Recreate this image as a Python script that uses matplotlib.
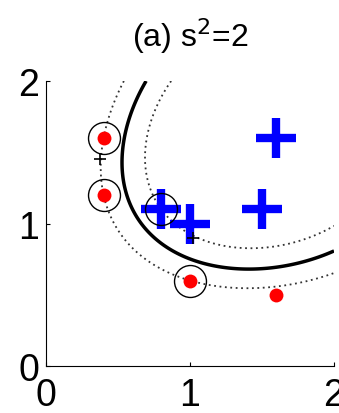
import numpy as np
import matplotlib.pyplot as plt

plt.rcParams['font.family'] = ['Liberation Sans', 'DejaVu Sans']

# training data, class -1 (red dots) and class +1 (blue crosses)
red_x = np.array([0.40, 0.40, 1.00, 1.60])
red_y = np.array([1.60, 1.20, 0.60, 0.50])
blue_x = np.array([1.60, 1.50, 0.80, 1.00])
blue_y = np.array([1.60, 1.10, 1.10, 1.00])

# support vectors (circled)
sv_x = np.array([0.40, 0.40, 1.00, 0.80])
sv_y = np.array([1.60, 1.20, 0.60, 1.10])
sv_lab = np.array([-1, -1, -1, 1])

# small black test markers
test_x = [0.375, 1.02]
test_y = [1.45, 0.90]

s2 = 2.0


def kern(ax_, ay_, bx_, by_):
    d2 = (ax_[:, None] - bx_[None, :]) ** 2 + (ay_[:, None] - by_[None, :]) ** 2
    return np.exp(-d2 / (2 * s2))


# hard-margin conditions on the support vectors -> alphas and bias
n = len(sv_x)
K = kern(sv_x, sv_y, sv_x, sv_y)
A = np.zeros((n + 1, n + 1))
A[:n, :n] = K * sv_lab[None, :]
A[:n, n] = 1
A[n, :n] = sv_lab
rhs = np.append(sv_lab, 0.0)
sol = np.linalg.solve(A, rhs)
alpha, b = sol[:n], sol[n]

gx, gy = np.meshgrid(np.linspace(0, 2, 300), np.linspace(0, 2, 300))
kg = kern(gx.ravel(), gy.ravel(), sv_x, sv_y)
f = (kg @ (alpha * sv_lab) + b).reshape(gx.shape)

fig = plt.figure(figsize=(3.39, 4.14), dpi=100)
ax = fig.add_axes([0.1357, 0.1135, 0.8496, 0.6884])

ax.contour(gx, gy, f, levels=[0], colors='k', linewidths=2.5)
ax.contour(gx, gy, f, levels=[-1, 1], colors='#333333', linewidths=1.3,
           linestyles=[(0, (1, 2))])

ax.plot(red_x, red_y, 'o', color='red', markersize=10, markeredgewidth=0)
ax.plot(blue_x, blue_y, '+', color='blue', markersize=29, markeredgewidth=6)
ax.plot(sv_x, sv_y, 'o', markerfacecolor='none', markeredgecolor='k',
        markersize=23, markeredgewidth=1)
ax.plot(test_x, test_y, '+', color='k', markersize=9, markeredgewidth=1.2)

ax.set_xlim(0, 2)
ax.set_ylim(0, 2)
ax.set_xticks([0, 1, 2])
ax.set_yticks([0, 1, 2])
ax.tick_params(direction='in', length=3, labelsize=27)
ax.tick_params(axis='x', pad=8)
ax.tick_params(axis='y', pad=5)
for side in ['top', 'right']:
    ax.spines[side].set_visible(False)
ax.set_title('(a) s$^2$=2', fontsize=23, pad=25)

fig.savefig('out.png', dpi=100)
